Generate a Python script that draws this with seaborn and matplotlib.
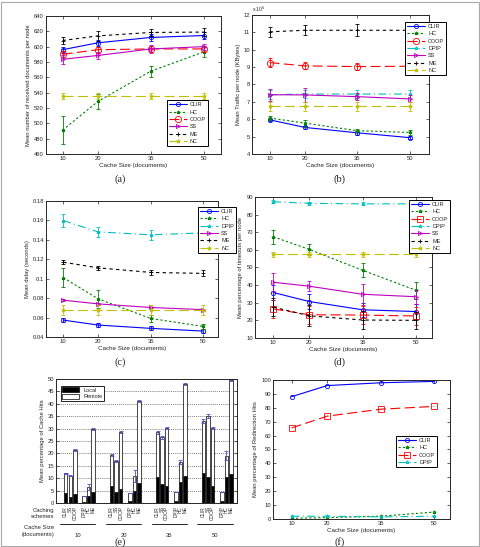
import numpy as np
import pandas as pd
import matplotlib
matplotlib.use("Agg")
import matplotlib.pyplot as plt
import matplotlib.transforms as mtransforms
from matplotlib.patches import Rectangle, Patch
from matplotlib.ticker import FuncFormatter
import seaborn as sns

# ---------------- data ----------------
cache_sizes = [10, 20, 35, 50]

# (a) mean number of received documents per node
recv_clir = [596, 605, 612, 614.5]
recv_hc = [491, 528.5, 568, 593]
recv_coop = [590, 596, 597, 597]
recv_ss = [583.5, 588.5, 597, 600]
recv_me = [608, 614, 618.5, 619]
recv_nc = [535.5, 535.5, 535.5, 535.5]
recv_clir_err = [4, 4, 5, 4]
recv_hc_err = [18, 10, 7, 6]
recv_coop_err = [4, 4, 4, 4]
recv_ss_err = [6, 4, 5, 4]
recv_me_err = [4, 7, 5, 5]
recv_nc_err = [4, 4, 4, 4]

# (b) mean traffic per node (KBytes)
traf_clir = [5.97e5, 5.53e5, 5.22e5, 4.94e5]
traf_hc = [6.07e5, 5.78e5, 5.34e5, 5.24e5]
traf_coop = [9.26e5, 9.07e5, 9.03e5, 9.05e5]
traf_dpip = [7.41e5, 7.45e5, 7.45e5, 7.45e5]
traf_ss = [7.41e5, 7.40e5, 7.30e5, 7.17e5]
traf_me = [11.03e5, 11.12e5, 11.12e5, 11.12e5]
traf_nc = [6.74e5, 6.74e5, 6.74e5, 6.74e5]
traf_clir_err = [0.1e5, 0.1e5, 0.1e5, 0.1e5]
traf_hc_err = [0.1e5, 0.2e5, 0.1e5, 0.15e5]
traf_coop_err = [0.25e5, 0.2e5, 0.2e5, 0.2e5]
traf_dpip_err = [0.25e5, 0.25e5, 0.25e5, 0.25e5]
traf_ss_err = [0.35e5, 0.4e5, 0.2e5, 0.2e5]
traf_me_err = [0.3e5, 0.3e5, 0.35e5, 0.3e5]
traf_nc_err = [0.25e5, 0.25e5, 0.25e5, 0.25e5]

# (c) mean delay (seconds)
delay_clir = [0.0574, 0.0523, 0.0489, 0.0461]
delay_hc = [0.1011, 0.0793, 0.0591, 0.0509]
delay_dpip = [0.1599, 0.1482, 0.1452, 0.1472]
delay_ss = [0.0779, 0.0741, 0.0704, 0.0682]
delay_me = [0.1170, 0.1112, 0.1065, 0.1055]
delay_nc = [0.0680, 0.0680, 0.0680, 0.0680]
delay_clir_err = [0.002, 0.002, 0.002, 0.002]
delay_hc_err = [0.010, 0.009, 0.004, 0.003]
delay_dpip_err = [0.007, 0.005, 0.005, 0.005]
delay_ss_err = [0.001, 0.001, 0.001, 0.001]
delay_me_err = [0.002, 0.002, 0.003, 0.003]
delay_nc_err = [0.005, 0.005, 0.005, 0.005]

# (d) mean percentage of timeouts per node
tout_clir = [35.8, 30.7, 26.0, 25.0]
tout_hc = [67.4, 60.3, 48.4, 37.0]
tout_coop = [26.5, 23.2, 23.0, 22.5]
tout_dpip = [87.3, 86.4, 86.1, 86.1]
tout_ss = [41.6, 39.4, 34.8, 33.4]
tout_me = [27.5, 22.6, 20.2, 20.0]
tout_nc = [57.4, 57.4, 57.4, 57.4]
tout_clir_err = [4, 4, 4, 4]
tout_hc_err = [4, 3, 4, 5]
tout_coop_err = [5, 5, 5, 5]
tout_dpip_err = [0.8, 0.8, 0.8, 0.8]
tout_ss_err = [5, 3, 6, 4]
tout_me_err = [5, 6, 5, 5]
tout_nc_err = [1.5, 1.5, 1.5, 1.5]

# (e) mean percentage of cache hits (total and local part)
hit_schemes = ["CLIR", "SS", "COOP", "DPIP", "HC", "ME"]
hit_total_10 = [12.0, 11.0, 21.5, 3.0, 6.5, 30.0]
hit_local_10 = [4.0, 2.5, 3.5, 0.3, 2.8, 4.5]
hit_err_10 = [0.3, 0.3, 0.4, 0.0, 1.3, 0.4]
hit_total_20 = [19.5, 17.0, 28.7, 4.0, 11.0, 41.0]
hit_local_20 = [7.0, 4.3, 5.5, 0.8, 5.0, 8.0]
hit_err_20 = [0.4, 0.3, 0.3, 0.0, 2.5, 0.4]
hit_total_35 = [28.5, 26.5, 30.3, 4.3, 16.5, 48.0]
hit_local_35 = [10.5, 7.5, 6.8, 1.0, 8.5, 11.0]
hit_err_35 = [0.6, 0.5, 0.3, 0.0, 0.8, 0.4]
hit_total_50 = [33.0, 35.0, 30.3, 4.3, 19.0, 49.5]
hit_local_50 = [12.3, 10.5, 6.8, 1.0, 10.5, 11.8]
hit_err_50 = [0.8, 0.9, 0.3, 0.0, 1.8, 0.4]

# (f) mean percentage of redirection hits
redir_clir = [88.0, 96.0, 98.0, 99.0]
redir_hc = [0.5, 1.0, 2.0, 5.0]
redir_coop = [65.5, 74.0, 79.0, 81.0]
redir_dpip = [2.0, 2.0, 1.5, 2.0]

# ---------------- styles ----------------
sns.set_style("ticks")
plt.rcParams["font.family"] = ["Liberation Sans", "DejaVu Sans"]
plt.rcParams["xtick.direction"] = "in"
plt.rcParams["ytick.direction"] = "in"
plt.rcParams["xtick.major.size"] = 2
plt.rcParams["ytick.major.size"] = 2
plt.rcParams["axes.linewidth"] = 0.7

STYLE = {
    "CLIR": dict(color="#0000ff", ls="-", marker="o", ms=3.0),
    "HC": dict(color="#008000", ls=(0, (2, 2)), marker="*", ms=2.5),
    "COOP": dict(color="#ff0000", ls=(0, (9, 4)), marker="o", ms=4.5),
    "DPIP": dict(color="#00bfbf", ls=(0, (7, 3, 1, 3)), marker="*", ms=2.5),
    "SS": dict(color="#bf00bf", ls="-", marker=">", ms=3.0),
    "ME": dict(color="#000000", ls=(0, (3, 3)), marker="+", ms=3.5),
    "NC": dict(color="#bfbf00", ls=(0, (9, 4)), marker="*", ms=3.0),
}

FS = 4.2
LFS = 4.0

fig = plt.figure(figsize=(4.81, 5.47), dpi=100)
fig.patches.append(Rectangle((0.002, 0.002), 0.993, 0.995, transform=fig.transFigure,
                             fill=False, edgecolor="#aaaaaa", linewidth=0.8))


def series(ax, name, y, err=None, marker=None):
    st = STYLE[name]
    sns.lineplot(x=cache_sizes, y=y, ax=ax, color=st["color"], linestyle=st["ls"],
                 marker=marker or st["marker"], markersize=st["ms"],
                 markerfacecolor="none", markeredgecolor=st["color"],
                 markeredgewidth=0.6, linewidth=0.8, label=name)
    if err is not None:
        ax.errorbar(cache_sizes, y, yerr=err, fmt="none", ecolor=st["color"],
                    elinewidth=0.6, capsize=1.6, capthick=0.6, label="_nolegend_")


def finish(ax, xlim, ylim, yticks, ylabel, legend_anchor, legend_loc="upper right"):
    ax.set_xlim(*xlim)
    ax.set_ylim(*ylim)
    ax.set_xticks(cache_sizes)
    ax.set_yticks(yticks)
    ax.yaxis.set_major_formatter(FuncFormatter(lambda v, p: "%g" % v))
    ax.tick_params(labelsize=FS, pad=1.5, top=True, right=True, width=0.5)
    ax.set_xlabel("Cache Size (documents)", fontsize=FS + 0.3, labelpad=1.5)
    ax.set_ylabel(ylabel, fontsize=FS, labelpad=2)
    h, l = ax.get_legend_handles_labels()
    leg = ax.legend(h, l, loc=legend_loc, bbox_to_anchor=legend_anchor, fontsize=LFS,
                    frameon=True, fancybox=False, edgecolor="black", framealpha=1,
                    handlelength=3.2, labelspacing=0.42, borderpad=0.4, handletextpad=0.6)
    leg.get_frame().set_linewidth(0.7)
    for sp in ax.spines.values():
        sp.set_visible(True)


# (a)
axa = fig.add_axes([0.0956, 0.7185, 0.3638, 0.2523])
series(axa, "CLIR", recv_clir, recv_clir_err)
series(axa, "HC", recv_hc, recv_hc_err)
series(axa, "COOP", recv_coop, recv_coop_err)
series(axa, "SS", recv_ss, recv_ss_err)
series(axa, "ME", recv_me, recv_me_err)
series(axa, "NC", recv_nc, recv_nc_err)
finish(axa, (5.3, 54.9), (460, 640), np.arange(460, 641, 20),
       "Mean number of received documents per node", (0.943, 0.036), "lower right")

# (b)
axb = fig.add_axes([0.5239, 0.7185, 0.368, 0.2541])
series(axb, "CLIR", traf_clir, traf_clir_err)
series(axb, "HC", traf_hc, traf_hc_err)
series(axb, "COOP", traf_coop, traf_coop_err)
series(axb, "DPIP", traf_dpip, traf_dpip_err)
series(axb, "SS", traf_ss, traf_ss_err)
series(axb, "ME", traf_me, traf_me_err)
series(axb, "NC", traf_nc, traf_nc_err)
finish(axb, (5.0, 55.5), (4e5, 12e5), np.arange(4e5, 12.1e5, 1e5),
       "Mean Traffic per node (KBytes)", (1.113, 0.971))
axb.yaxis.set_major_formatter(FuncFormatter(lambda v, p: "%g" % (v / 1e5)))
axb.text(0.0, 1.005, r"x 10$^5$", transform=axb.transAxes, fontsize=FS - 0.5,
         ha="left", va="bottom")

# (c)
axc = fig.add_axes([0.0956, 0.3839, 0.3576, 0.2486])
series(axc, "CLIR", delay_clir, delay_clir_err)
series(axc, "HC", delay_hc, delay_hc_err)
series(axc, "DPIP", delay_dpip, delay_dpip_err)
series(axc, "SS", delay_ss, delay_ss_err)
series(axc, "ME", delay_me, delay_me_err)
series(axc, "NC", delay_nc, delay_nc_err)
finish(axc, (5.05, 54.3), (0.04, 0.18), np.arange(0.04, 0.181, 0.02),
       "Mean delay (seconds)", (1.122, 0.978))

# (d)
axd = fig.add_axes([0.5301, 0.3821, 0.368, 0.2578])
series(axd, "CLIR", tout_clir, tout_clir_err)
series(axd, "HC", tout_hc, tout_hc_err)
series(axd, "COOP", tout_coop, tout_coop_err, marker="s")
series(axd, "DPIP", tout_dpip, tout_dpip_err)
series(axd, "SS", tout_ss, tout_ss_err)
series(axd, "ME", tout_me, tout_me_err)
series(axd, "NC", tout_nc, tout_nc_err)
finish(axd, (4.86, 54.4), (10, 90), np.arange(10, 91, 10),
       "Mean percentage of timeouts per node", (1.119, 1.0))

# (f)
axf = fig.add_axes([0.5676, 0.0512, 0.368, 0.2541])
series(axf, "CLIR", redir_clir)
series(axf, "HC", redir_hc)
series(axf, "COOP", redir_coop, marker="s")
series(axf, "DPIP", redir_dpip)
finish(axf, (4.8, 54.4), (0, 100), np.arange(0, 101, 10),
       "Mean percentage of Redirection Hits", (0.944, 0.619))

# (e) stacked bars
axe = fig.add_axes([0.1164, 0.0804, 0.3763, 0.2267])
within = np.array([0, 1, 2, 4, 5, 6])
groups = [(10, hit_total_10, hit_local_10, hit_err_10),
          (20, hit_total_20, hit_local_20, hit_err_20),
          (35, hit_total_35, hit_local_35, hit_err_35),
          (50, hit_total_50, hit_local_50, hit_err_50)]
rows = []
for gi, (cs, tot, loc, err) in enumerate(groups):
    for si, s in enumerate(hit_schemes):
        rows.append(dict(pos=gi * 10 + within[si], cache=cs, scheme=s,
                         total=tot[si], local=loc[si], err=err[si]))
dfe = pd.DataFrame(rows)
dfe["remote"] = dfe["total"] - dfe["local"]
axe.yaxis.grid(True, linestyle=(0, (1.5, 1.5)), color="#555555", linewidth=0.5)
axe.set_axisbelow(True)
axe.bar(dfe["pos"], dfe["local"], width=0.75, color="black", edgecolor="black",
        linewidth=0.5, label="Local")
axe.bar(dfe["pos"], dfe["remote"], bottom=dfe["local"], width=0.75, color="white",
        edgecolor="black", linewidth=0.5, label="Remote")
axe.errorbar(dfe["pos"], dfe["total"], yerr=dfe["err"], fmt="none", ecolor="#5050c8",
             elinewidth=0.6, capsize=1.3, capthick=0.6)
axe.set_xlim(-2.1, 37.3)
axe.set_ylim(0, 50)
axe.set_yticks(np.arange(0, 51, 5))
axe.set_xticks([])
axe.tick_params(labelsize=FS, pad=1.5, right=True, width=0.5)
axe.set_ylabel("Mean percentage of Cache Hits", fontsize=FS, labelpad=2)
for sp in axe.spines.values():
    sp.set_visible(True)
lege = axe.legend(handles=[Patch(facecolor="black", edgecolor="black", linewidth=0.5),
                           Patch(facecolor="white", edgecolor="black", linewidth=0.5)],
                  labels=["Local", "Remote"], loc="upper left", bbox_to_anchor=(0.011, 0.968),
                  fontsize=LFS, fancybox=False, edgecolor="black", framealpha=1,
                  handlelength=3.0, handleheight=1.0, labelspacing=0.2, borderpad=0.3)
lege.get_frame().set_linewidth(0.6)
tr = mtransforms.blended_transform_factory(axe.transData, axe.transAxes)
for _, r in dfe.iterrows():
    axe.text(r["pos"], -0.025, r["scheme"], transform=tr, rotation=90, fontsize=3.4,
             ha="center", va="top")
for gi, (cs, tot, loc, err) in enumerate(groups):
    x0 = gi * 10
    axe.plot([x0 - 1.3, x0 + 6.4], [-0.169, -0.169], transform=tr, color="black",
             linewidth=0.6, clip_on=False)
    axe.text(x0 + 2.6, -0.24, str(cs), transform=tr, fontsize=FS, ha="center", va="top")
axe.text(-0.01, -0.085, "Caching\nschemes", transform=axe.transAxes, fontsize=FS,
         ha="right", va="center", linespacing=1.3)
axe.text(-0.01, -0.225, "Cache Size\n(documents)", transform=axe.transAxes, fontsize=FS,
         ha="right", va="center", linespacing=1.3)

# captions
for lab, x, y in [("(a)", 120, 179), ("(b)", 340, 179), ("(c)", 120, 362),
                  ("(d)", 340, 362), ("(e)", 120, 542), ("(f)", 340, 542)]:
    fig.text(x / 481, 1 - y / 547, lab, fontsize=7.5, family="Liberation Serif",
             ha="center", va="center")

fig.savefig("out.png", dpi=100)
